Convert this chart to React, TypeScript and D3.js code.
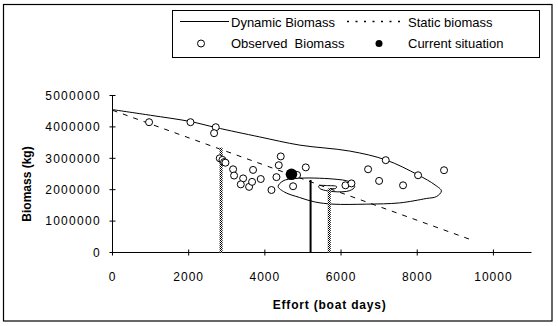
import React from "react";
import * as d3 from "d3";

// ---- data ----
const obsEffort = [960, 2047, 2711, 2667, 2816, 2887, 2930, 2965, 3166, 3192, 3430, 3368, 3586, 3664, 3690, 3892, 4173, 4304, 4365, 4417, 4741, 4845, 5074, 6115, 6273, 6710, 6999, 7173, 7628, 8022, 8704];
const obsBiomass = [4150000, 4150000, 3990000, 3800000, 3000000, 2950000, 2880000, 2860000, 2650000, 2450000, 2360000, 2170000, 2090000, 2250000, 2630000, 2340000, 1990000, 2400000, 2780000, 3060000, 2110000, 2470000, 2710000, 2140000, 2200000, 2650000, 2280000, 2940000, 2140000, 2460000, 2620000];

const dynEffort = [0, 1000, 2047, 2711, 3866, 4916, 6228, 7173, 8022, 8469, 8635, 8503, 8241, 7540, 6667, 5790, 5310, 4916, 4522, 4348, 4479, 4812, 5790, 6228, 6360, 6228, 5790, 5441, 5415, 5650, 5885, 5860, 5703];
const dynBiomass = [4550000, 4370000, 4170000, 3980000, 3680000, 3420000, 3230000, 2950000, 2470000, 2150000, 1960000, 1780000, 1720000, 1580000, 1540000, 1540000, 1610000, 1750000, 1920000, 2100000, 2280000, 2360000, 2340000, 2250000, 2100000, 1970000, 1940000, 2040000, 2120000, 2130000, 2100000, 2040000, 2040000];

const staticEffort = [0, 9450];
const staticBiomass = [4530000, 390000];

const currentEffort = [4698];
const currentBiomass = [2490000];

const refEffort = [2850, 5200, 5690];
const refBiomass = [3340000, 2310000, 2040000];
const refKind = ["gray", "black", "gray"];

const xTicks = [0, 2000, 4000, 6000, 8000, 10000];
const yTicks = [0, 1000000, 2000000, 3000000, 4000000, 5000000];

const FONT = "'Liberation Sans', Arial, sans-serif";

export default function App() {
  const x = d3.scaleLinear().domain([0, 11000]).range([112.5, 531.5]);
  const y = d3.scaleLinear().domain([0, 5000000]).range([252.5, 95.5]);

  const dynPts: [number, number][] = dynEffort.map((e, i) => [e, dynBiomass[i]]);
  const line = d3
    .line<[number, number]>()
    .x((d) => x(d[0]))
    .y((d) => y(d[1]))
    .curve(d3.curveCatmullRom.alpha(0.5));
  const straight = d3
    .line<[number, number]>()
    .x((d) => x(d[0]))
    .y((d) => y(d[1]));
  const staticPts: [number, number][] = staticEffort.map((e, i) => [e, staticBiomass[i]]);

  return (
    <svg
      width={558}
      height={326}
      style={{ position: "absolute", left: 0, top: 0, background: "#fff" }}
      fontFamily={FONT}
    >
      <defs>
        <pattern id="chk" width="2" height="2" patternUnits="userSpaceOnUse">
          <rect width="2" height="2" fill="#fff" />
          <rect width="1" height="1" fill="#000" />
          <rect x="1" y="1" width="1" height="1" fill="#000" />
        </pattern>
      </defs>
      <rect x={3.5} y={4.5} width={548.5} height={316.5} fill="#fff" stroke="#000" strokeWidth={1.2} />

      {/* axes */}
      <line x1={x(0)} x2={x(11000)} y1={y(0)} y2={y(0)} stroke="#000" />
      <line x1={x(0)} x2={x(0)} y1={y(0)} y2={y(5000000)} stroke="#000" />
      {xTicks.map((t) => (
        <g key={"xt" + t}>
          <line x1={x(t)} x2={x(t)} y1={y(0) - 3} y2={y(0) + 3} stroke="#000" />
          <text x={x(t)} y={281} textAnchor="middle" fontSize={12} letterSpacing={1} fill="#000">
            {t}
          </text>
        </g>
      ))}
      {yTicks.map((t) => (
        <g key={"yt" + t}>
          <line x1={x(0) - 3} x2={x(0) + 3} y1={y(t)} y2={y(t)} stroke="#000" />
          <text x={101} y={y(t) + 4.3} textAnchor="end" fontSize={12} letterSpacing={1.3} fill="#000">
            {t}
          </text>
        </g>
      ))}

      <text x={x(5700)} y={309} textAnchor="middle" fontSize={12} fontWeight="bold" letterSpacing={0.8}>
        Effort (boat days)
      </text>
      <text transform="translate(31,184) rotate(-90)" textAnchor="middle" fontSize={12} fontWeight="bold">
        Biomass (kg)
      </text>

      {/* static biomass */}
      <path d={straight(staticPts) || ""} fill="none" stroke="#000" strokeWidth={1} strokeDasharray="5,6" />
      {/* dynamic biomass */}
      <path d={line(dynPts) || ""} fill="none" stroke="#000" strokeWidth={1} />

      {/* reference verticals */}
      {refEffort.map((e, i) =>
        refKind[i] === "black" ? (
          <line key={"r" + i} x1={x(e)} x2={x(e)} y1={y(refBiomass[i])} y2={y(0)} stroke="#000" strokeWidth={2} />
        ) : (
          <rect
            key={"r" + i}
            x={x(e) - 1.5}
            y={y(refBiomass[i])}
            width={3}
            height={y(0) - y(refBiomass[i])}
            fill="url(#chk)"
          />
        )
      )}

      {/* observed */}
      {obsEffort.map((e, i) => (
        <circle key={"o" + i} cx={x(e)} cy={y(obsBiomass[i])} r={3.5} fill="#fff" stroke="#000" strokeWidth={1} />
      ))}
      {currentEffort.map((e, i) => (
        <circle key={"c" + i} cx={x(e)} cy={y(currentBiomass[i])} r={5.8} fill="#000" />
      ))}

      {/* legend */}
      <rect x={172.5} y={10.5} width={367} height={47} fill="#fff" stroke="#000" strokeWidth={1} />
      <line x1={180} x2={229} y1={21.5} y2={21.5} stroke="#000" />
      <text x={231} y={26.5} fontSize={13}>Dynamic Biomass</text>
      <line x1={347} x2={405} y1={21.5} y2={21.5} stroke="#000" strokeWidth={1.5} strokeDasharray="2,6.5" />
      <text x={408} y={26.5} fontSize={13}>Static biomass</text>
      <circle cx={201} cy={43.5} r={3.5} fill="#fff" stroke="#000" />
      <text x={231} y={48} fontSize={13} xmlSpace="preserve">Observed  Biomass</text>
      <circle cx={379} cy={43.5} r={3.5} fill="#000" />
      <text x={408} y={48} fontSize={13}>Current situation</text>
    </svg>
  );
}
